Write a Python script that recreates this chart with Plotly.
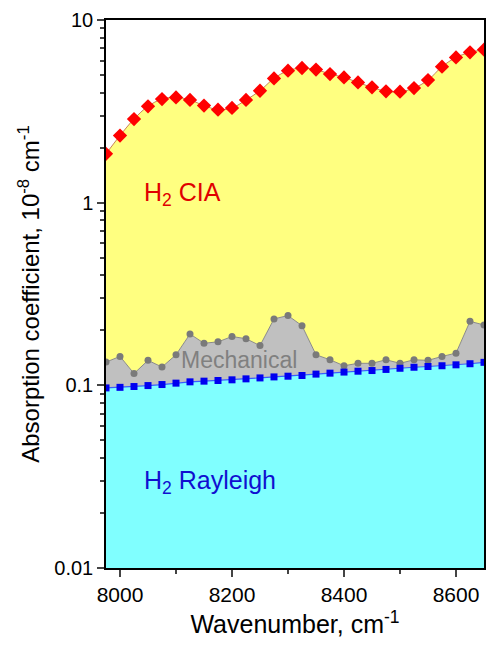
import math
import plotly.graph_objects as go

wavenumber = [7975, 8000, 8025, 8050, 8075, 8100, 8125, 8150, 8175, 8200,
              8225, 8250, 8275, 8300, 8325, 8350, 8375, 8400, 8425, 8450,
              8475, 8500, 8525, 8550, 8575, 8600, 8625, 8650]

h2_cia_total = [1.85, 2.33, 2.87, 3.37, 3.69, 3.77, 3.65, 3.40, 3.23, 3.30,
                3.65, 4.10, 4.79, 5.28, 5.46, 5.35, 5.06, 4.85, 4.55, 4.28,
                4.07, 4.05, 4.24, 4.69, 5.55, 6.24, 6.65, 6.88]

mechanical_total = [0.134, 0.144, 0.116, 0.137, 0.126, 0.147, 0.191, 0.170, 0.173, 0.185,
                    0.180, 0.165, 0.231, 0.241, 0.212, 0.147, 0.138, 0.128, 0.132, 0.132,
                    0.138, 0.132, 0.138, 0.137, 0.144, 0.150, 0.224, 0.214]

h2_rayleigh = [0.0968, 0.0975, 0.0985, 0.0997, 0.1010, 0.1028, 0.1045, 0.1054, 0.1063, 0.1072,
               0.1085, 0.1098, 0.1112, 0.1122, 0.1132, 0.1152, 0.1166, 0.1182, 0.1195, 0.1205,
               0.1222, 0.1240, 0.1256, 0.1268, 0.1280, 0.1295, 0.1313, 0.1336]

y_tickvals = [0.01, 0.1, 1, 10]
y_ticktext = ["0.01", "0.1", "1", "10"]
x_tickvals = [8000, 8200, 8400, 8600]

FONT = "Liberation Sans, Arial, sans-serif"
floor = [0.005] * len(wavenumber)

fig = go.Figure()
# invisible floor for fills
fig.add_trace(go.Scatter(x=wavenumber, y=floor, mode="lines",
                         line=dict(width=0, color="rgba(0,0,0,0)"),
                         showlegend=False, hoverinfo="skip"))
fig.add_trace(go.Scatter(x=wavenumber, y=h2_rayleigh, mode="lines", fill="tonexty",
                         line=dict(width=0, color="rgba(0,0,0,0)"),
                         fillcolor="#80ffff", showlegend=False))
fig.add_trace(go.Scatter(x=wavenumber, y=mechanical_total, mode="lines", fill="tonexty",
                         line=dict(width=0, color="rgba(0,0,0,0)"),
                         fillcolor="#c0c0c0", showlegend=False))
fig.add_trace(go.Scatter(x=wavenumber, y=h2_cia_total, mode="lines", fill="tonexty",
                         line=dict(width=0, color="rgba(0,0,0,0)", shape="spline"),
                         fillcolor="#ffff80", showlegend=False))

# lines and markers
fig.add_trace(go.Scatter(x=wavenumber, y=mechanical_total, mode="lines+markers",
                         line=dict(color="#8a8a8a", width=1),
                         marker=dict(symbol="circle", size=7, color="#7a7a7a"),
                         showlegend=False))
fig.add_trace(go.Scatter(x=wavenumber, y=h2_rayleigh, mode="lines+markers",
                         line=dict(color="#3a5cff", width=1.2),
                         marker=dict(symbol="square", size=7, color="#0000f0"),
                         showlegend=False))
fig.add_trace(go.Scatter(x=wavenumber, y=h2_cia_total, mode="lines+markers",
                         line=dict(color="#c8825a", width=1, shape="spline"),
                         marker=dict(symbol="diamond", size=11, color="#ff0000"),
                         showlegend=False))

# annotations (log axis: y given as log10 of value)
fig.add_annotation(x=8040, y=math.log10(1.12), text="H<sub>2</sub> CIA",
                   showarrow=False, xanchor="left", yanchor="middle",
                   font=dict(family=FONT, size=25, color="#e00000"))
fig.add_annotation(x=8105, y=math.log10(0.137), text="Mechanical", showarrow=False,
                   xanchor="left", yanchor="middle",
                   font=dict(family=FONT, size=23, color="#808080"))
fig.add_annotation(x=8040, y=math.log10(0.0295), text="H<sub>2</sub> Rayleigh", showarrow=False,
                   xanchor="left", yanchor="middle",
                   font=dict(family=FONT, size=25, color="#1010d0"))

fig.update_layout(
    width=487, height=648, autosize=False,
    margin=dict(l=106, r=1, t=20, b=80),
    paper_bgcolor="white", plot_bgcolor="white",
    font=dict(family=FONT, size=20, color="black"),
)
fig.update_xaxes(
    range=[7975, 8650], tickvals=x_tickvals, ticks="outside", ticklen=7, tickwidth=1.5,
    showline=True, linecolor="black", linewidth=1.5, mirror=True, showgrid=False, zeroline=False,
    minor=dict(ticks="outside", ticklen=4, tickwidth=1.5, dtick=100, showgrid=False),
    tickfont=dict(size=21),
    title=dict(text="Wavenumber, cm<sup>-1</sup>", font=dict(size=25), standoff=11),
)
fig.update_yaxes(
    type="log", range=[-2, 1], tickvals=y_tickvals, ticktext=y_ticktext,
    ticks="outside", ticklen=7, tickwidth=1.5,
    showline=True, linecolor="black", linewidth=1.5, mirror=True, showgrid=False, zeroline=False,
    minor=dict(ticks="outside", ticklen=4, tickwidth=1.5, dtick="D1", showgrid=False),
    tickfont=dict(size=20),
    title=dict(text="Absorption coefficient, 10<sup>-8</sup> cm<sup>-1</sup>", font=dict(size=24), standoff=8),
)

fig.write_html(
    "out.html",
    config={"displayModeBar": False},
    post_script="document.body.style.margin='0';document.body.style.overflow='hidden';",
)
